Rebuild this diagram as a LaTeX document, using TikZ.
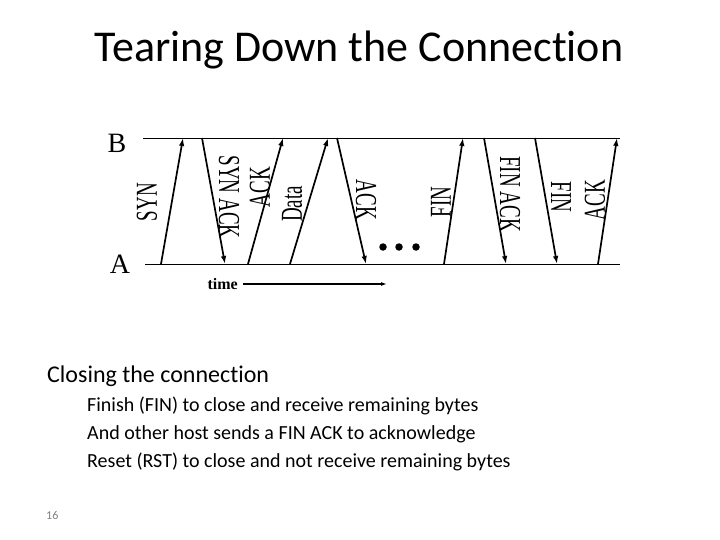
\documentclass[tikz,border=0pt]{standalone}
\usepackage{fontspec}
\usepackage{graphicx}
\setmainfont{Liberation Serif}
\newfontfamily\slidefont[Ligatures=NoCommon]{Carlito}
\usetikzlibrary{arrows.meta}

% stretched message text, as on the slide
\newcommand{\tallmsg}[1]{\scalebox{1}[1.6]{#1}}

\begin{document}
\begin{tikzpicture}[
x=1pt, y=-1pt,
timeline/.style={line width=0.8pt},
msg/.style={line width=1.7pt, -{Latex[length=8pt,width=5.5pt]}},
uplabel/.style={rotate=90, inner sep=0pt, font=\fontsize{19}{19}\selectfont},
downlabel/.style={rotate=-90, inner sep=0pt, font=\fontsize{19}{19}\selectfont},
host/.style={inner sep=0pt, font=\fontsize{28}{28}\selectfont},
dot/.style={circle, fill, inner sep=0pt, minimum size=7.5pt},
clock/.style={line width=1.7pt, -{Latex[length=6pt,width=4pt]}},
heading/.style={anchor=base, inner sep=0pt, font=\slidefont\fontsize{44}{48}\selectfont},
mainline/.style={anchor=base west, inner sep=0pt, font=\slidefont\fontsize{24}{28}\selectfont},
subline/.style={anchor=base west, inner sep=0pt, font=\slidefont\fontsize{20}{24}\selectfont}
]
\useasboundingbox (0,0) rectangle (720,540);

\node[heading] (title) at (359,62) {Tearing Down the Connection};

% the two hosts
\node[host] (hostB) at (117,143) {B};
\node[host] (hostA) at (120,264) {A};
\coordinate (B-start) at (143,138);
\coordinate (B-end) at (620,138);
\coordinate (A-start) at (145,264);
\coordinate (A-end) at (620,264);
\draw[timeline] (B-start) -- (B-end);
\draw[timeline] (A-start) -- (A-end);

% points where the messages leave and arrive
\coordinate (a1) at (161,264); \coordinate (b1) at (183,138);
\coordinate (b2) at (202,138); \coordinate (a2) at (225,264);
\coordinate (a3) at (248,264); \coordinate (b3) at (283,138);
\coordinate (a4) at (290,264); \coordinate (b4) at (328,138);
\coordinate (b5) at (337,138); \coordinate (a5) at (366,264);
\coordinate (a6) at (444,264); \coordinate (b6) at (463,138);
\coordinate (b7) at (484,138); \coordinate (a7) at (506,264);
\coordinate (b8) at (535,138); \coordinate (a8) at (557,264);
\coordinate (a9) at (598,264); \coordinate (b9) at (617,138);

\draw[msg] (a1) -- (b1);
\draw[msg] (b2) -- (a2);
\draw[msg] (a3) -- (b3);
\draw[msg] (a4) -- (b4);
\draw[msg] (b5) -- (a5);
\draw[msg] (a6) -- (b6);
\draw[msg] (b7) -- (a7);
\draw[msg] (b8) -- (a8);
\draw[msg] (a9) -- (b9);

\node[uplabel] (syn) at (147,202) {\tallmsg{SYN}};
\node[downlabel] (synack) at (229,197) {\tallmsg{SYN ACK}};
\node[uplabel] (ack1) at (260,187) {\tallmsg{ACK}};
\node[uplabel] (data) at (292,204) {\tallmsg{Data}};
\node[downlabel] (ack2) at (366,200) {\tallmsg{ACK}};
\node[uplabel] (fin1) at (441,202) {\tallmsg{FIN}};
\node[downlabel] (finack) at (510,194) {\tallmsg{FIN ACK}};
\node[downlabel] (fin2) at (561,197) {\tallmsg{FIN}};
\node[uplabel] (ack3) at (595,200) {\tallmsg{ACK}};

\node[dot] (dot1) at (383,247) {};
\node[dot] (dot2) at (399,247) {};
\node[dot] (dot3) at (416,247) {};

% time axis
\coordinate (time-start) at (243,284);
\coordinate (time-end) at (387,284);
\node[anchor=east, inner sep=0pt, font=\fontsize{16}{16}\selectfont\bfseries] (time) at ([xshift=-5pt]time-start) {time};
\draw[clock] (time-start) -- (time-end);

% slide text
\node[mainline] (closing) at (47,382) {Closing the connection};
\node[subline] (finish) at (87,411) {Finish (FIN) to close and receive remaining bytes};
\node[subline] (other) at (87,439) {And other host sends a FIN ACK to acknowledge};
\node[subline] (reset) at (87,467) {Reset (RST) to close and not receive remaining bytes};

\node[anchor=base west, inner sep=0pt, text=gray, font=\slidefont\fontsize{12}{12}\selectfont] (pagenum) at (46,519) {16};
\end{tikzpicture}
\end{document}
